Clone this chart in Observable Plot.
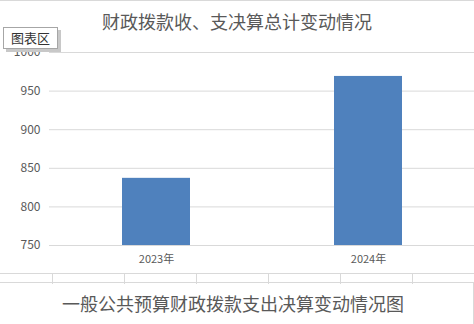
<!DOCTYPE html>
<html>
<head>
<meta charset="utf-8">
<script src="https://cdn.jsdelivr.net/npm/d3@7"></script>
<script src="https://cdn.jsdelivr.net/npm/@observablehq/plot@0.6"></script>
<style>
  html, body { margin: 0; padding: 0; background: #fff; }
  #wrap { position: relative; width: 474px; height: 324px; overflow: hidden; font-family: "Noto Sans CJK SC", "Noto Sans", sans-serif; color: #595959; }
  #topline { position: absolute; left: 0; top: 0; width: 474px; height: 1px; background: #d9d9d9; }
  #title { position: absolute; left: 0; top: 0; width: 474px; height: 40px; text-align: center; line-height: 42px; font-size: 18px; color: #595959; }
  #chart { position: absolute; left: 0; top: 40px; }
  #tag { position: absolute; left: 3px; top: 27px; width: 53px; height: 20px; border: 1px solid #a6a6a6; background: #fff; box-shadow: 3px 3px 0 #c8c8c8; font-size: 13px; line-height: 20px; text-align: center; color: #333; }
  #row { position: absolute; left: 0; top: 273px; width: 474px; height: 10px; border-top: 1px solid #d9d9d9; border-bottom: 1px solid #d9d9d9; box-sizing: border-box; }
  .vl { position: absolute; top: 0; width: 1px; height: 10px; background: #d9d9d9; }
  #capbox { position: absolute; left: 0; top: 283px; width: 474px; height: 41px; border-right: 1px solid #d9d9d9; box-sizing: border-box; }
  #caption { position: absolute; left: 0; top: 283px; width: 466px; height: 40px; text-align: center; line-height: 40px; font-size: 18px; color: #595959; }
</style>
</head>
<body>
<div id="wrap">
  <div id="topline"></div>
  <div id="title"></div>
  <div id="chart"></div>
  <div id="tag"></div>
  <div id="row"></div>
  <div id="capbox"></div>
  <div id="caption"></div>
</div>
<script>
const categories = ["2023年", "2024年"];
const values = [837, 969];
const yTicks = [750, 800, 850, 900, 950, 1000];
const titleText = "财政拨款收、支决算总计变动情况";
const captionText = "一般公共预算财政拨款支出决算变动情况图";
const tagText = "图表区";
const rowLines = [52, 124, 196, 268, 340, 412];

document.getElementById("title").textContent = titleText;
document.getElementById("caption").textContent = captionText;
document.getElementById("tag").textContent = tagText;
const row = document.getElementById("row");
rowLines.forEach(x => { const d = document.createElement("div"); d.className = "vl"; d.style.left = x + "px"; row.appendChild(d); });

const data = categories.map((c, i) => ({ year: c, value: values[i] }));

const chart = Plot.plot({
  width: 474,
  height: 233,
  marginTop: 12,
  marginBottom: 28,
  marginLeft: 49,
  marginRight: 0,
  style: { fontFamily: "'Noto Sans CJK SC', 'Noto Sans', sans-serif", fontSize: "11px", color: "#595959", background: "transparent" },
  x: { domain: categories, paddingInner: 0.68, paddingOuter: 0.34, label: null },
  y: { domain: [750, 1000], label: null },
  marks: [
    Plot.ruleY(yTicks, { stroke: "#d9d9d9", strokeWidth: 1 }),
    Plot.rectY(data, { x: "year", y1: 750, y2: "value", fill: "#4f81bd" }),
    Plot.axisY(yTicks, { tickSize: 0, tickPadding: 9, label: null, fill: "#595959", fontSize: 12, tickFormat: d => String(d) }),
    Plot.axisX({ tickSize: 0, tickPadding: 10, label: null, fill: "#595959", fontSize: 11 })
  ]
});
document.getElementById("chart").appendChild(chart);
</script>
</body>
</html>
